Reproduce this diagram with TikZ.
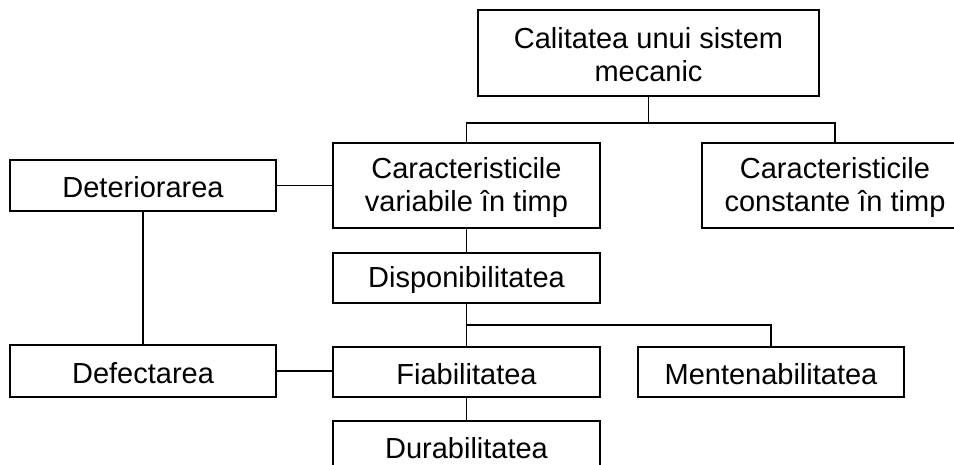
\documentclass[tikz,border=0pt]{standalone}
\usepackage{fontspec}
\setmainfont{Liberation Sans}
\begin{document}
\begin{tikzpicture}[x=1pt,y=-1pt,
  box/.style={draw=black,line width=1.5pt,inner sep=0pt,outer sep=0pt,
    minimum width=267pt,minimum height=50pt},
  lab/.style={inner sep=0pt,outer sep=0pt,align=center,yshift=-2pt,
    font=\fontsize{29}{33}\selectfont},
  conn/.style={draw=black,line width=1.5pt}]
\useasboundingbox (0,0) rectangle (954,465);
\clip (0,0) rectangle (954,465);
\fill[white] (0,0) rectangle (954,465);
\node[box,minimum width=341pt,minimum height=86pt] (top) at (648.5,53) {};
\node[box,minimum height=85pt] (var) at (466.5,185.5) {};
\node[box,minimum width=266pt,minimum height=85pt] (const) at (835,185.5) {};
\node[box,minimum width=266pt,minimum height=51pt] (det) at (143,185.5) {};
\node[box] (disp) at (466.5,278) {};
\node[box,minimum width=266pt,minimum height=52pt] (def) at (143,371) {};
\node[box] (fiab) at (466.5,372) {};
\node[box,minimum width=266pt] (ment) at (771,372) {};
\node[box] (dur) at (466.5,446) {};
\node[lab] (tTop) at (top.center) {Calitatea unui sistem\\mecanic};
\node[lab] (tVar) at (var.center) {Caracteristicile\\variabile în timp};
\node[lab] (tConst) at (const.center) {Caracteristicile\\constante în timp};
\node[lab] (tDet) at (det.center) {Deteriorarea};
\node[lab] (tDisp) at (disp.center) {Disponibilitatea};
\node[lab] (tDef) at (def.center) {Defectarea};
\node[lab] (tFiab) at (fiab.center) {Fiabilitatea};
\node[lab] (tMent) at (ment.center) {Mentenabilitatea};
\node[lab] (tDur) at (dur.center) {Durabilitatea};
\coordinate (b1) at (648.5,123);
\coordinate (b2) at (466.5,325);
\draw[conn] (top.south) -- (b1);
\draw[conn] (var.north) |- (b1) -| (const.north);
\draw[conn] (det.east) -- (var.west);
\draw[conn] (det.south) -- (def.north);
\draw[conn] (var.south) -- (disp.north);
\draw[conn] (disp.south) -- (fiab.north);
\draw[conn] (b2) -| (ment.north);
\draw[conn] (def.east) -- (def.east -| fiab.west);
\draw[conn] (fiab.south) -- (dur.north);
\end{tikzpicture}
\end{document}
